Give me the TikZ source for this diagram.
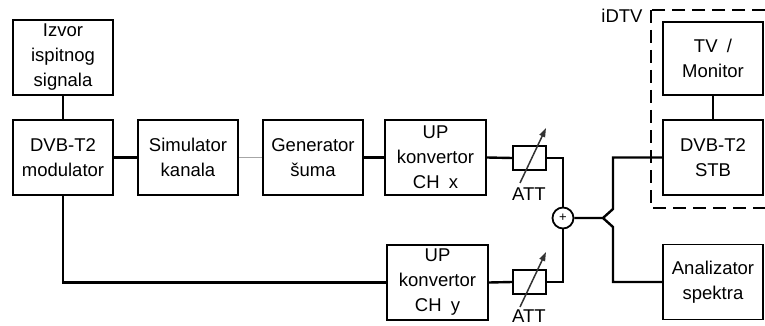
\documentclass[tikz,border=0pt]{standalone}
\usepackage{fontspec}
\setmainfont{Liberation Sans}
\usetikzlibrary{arrows.meta}
\begin{document}
\begin{tikzpicture}[x=1pt,y=-1pt,
  box/.style={draw, line width=1.8pt, minimum width=100pt, minimum height=75pt, align=center, inner sep=0pt, font=\fontsize{18.5}{25}\selectfont},
  attbox/.style={draw, line width=1.8pt, minimum width=33pt, minimum height=24pt, inner sep=0pt},
  lbl/.style={font=\fontsize{18.5}{25}\selectfont, inner sep=0pt},
  wire/.style={line width=2.4pt},
  thinwire/.style={line width=0.8pt, draw=gray!70},
  attarrow/.style={line width=1.5pt, draw=black!80, -{Triangle[length=9pt,width=6pt]}},
  group/.style={draw, line width=2.2pt, dash pattern=on 13pt off 7pt}]
\clip (0,0) rectangle (765,326);
\fill[white] (0,0) rectangle (765,326);

\node[box] (izvor) at (63,57.5) {Izvor\\ispitnog\\signala};
\node[box] (mod) at (63,157.5) {DVB-T2\\modulator};
\node[box] (sim) at (188,157.5) {Simulator\\kanala};
\node[box] (gen) at (313,157.5) {Generator\\šuma};
\node[box, minimum width=101pt] (upx) at (435.5,157.5) {UP\\konvertor\\CH\enspace x};
\node[box, minimum width=101pt] (upy) at (437.5,282.5) {UP\\konvertor\\CH\enspace y};
\node[attbox] (att1) at (529.5,158) {};
\node[attbox] (att2) at (529.5,282) {};
\node[draw, circle, line width=1.8pt, minimum size=21pt, inner sep=0pt, font=\fontsize{13}{13}\selectfont] (sum) at (563,218) {+};
\node[box] (tv) at (713,58.5) [minimum height=73pt] {TV\enspace/\\Monitor};
\node[box] (stb) at (713,157.5) {DVB-T2\\STB};
\node[box] (ana) at (713,282) {Analizator\\spektra};

\node[lbl] (attl1) at (529,194) {ATT};
\node[lbl] (attl2) at (529,316.5) {ATT};
\node[lbl] (idtv) at (622,16) {iDTV};

\draw[group] (651,10) rectangle (780,208);

\coordinate (a1s) at (520,183);
\coordinate (a1e) at (546,128);
\coordinate (a2s) at (520,307);
\coordinate (a2e) at (546,252);
\draw[attarrow] (a1s) -- (a1e);
\draw[attarrow] (a2s) -- (a2e);

\coordinate (split) at (603,218);
\coordinate (up) at (613,209);
\coordinate (dn) at (613,227);

\draw[wire] (izvor.south) -- (mod.north);
\draw[wire] (mod.east) -- (sim.west);
\draw[thinwire] (sim.east) -- (gen.west);
\draw[wire] (gen.east) -- (upx.west);
\draw[wire] (upx.east) -- (att1.west);
\draw[wire] (att1.east) -| (sum.north);
\draw[wire] (mod.south) |- (upy.west);
\draw[wire] (upy.east) -- (att2.west);
\draw[wire] (att2.east) -| (sum.south);
\draw[wire] (sum.east) -- (split) -- (up) |- (stb.west);
\draw[wire] (split) -- (dn) |- (ana.west);
\draw[wire] (tv.south) -- (stb.north);
\end{tikzpicture}
\end{document}
